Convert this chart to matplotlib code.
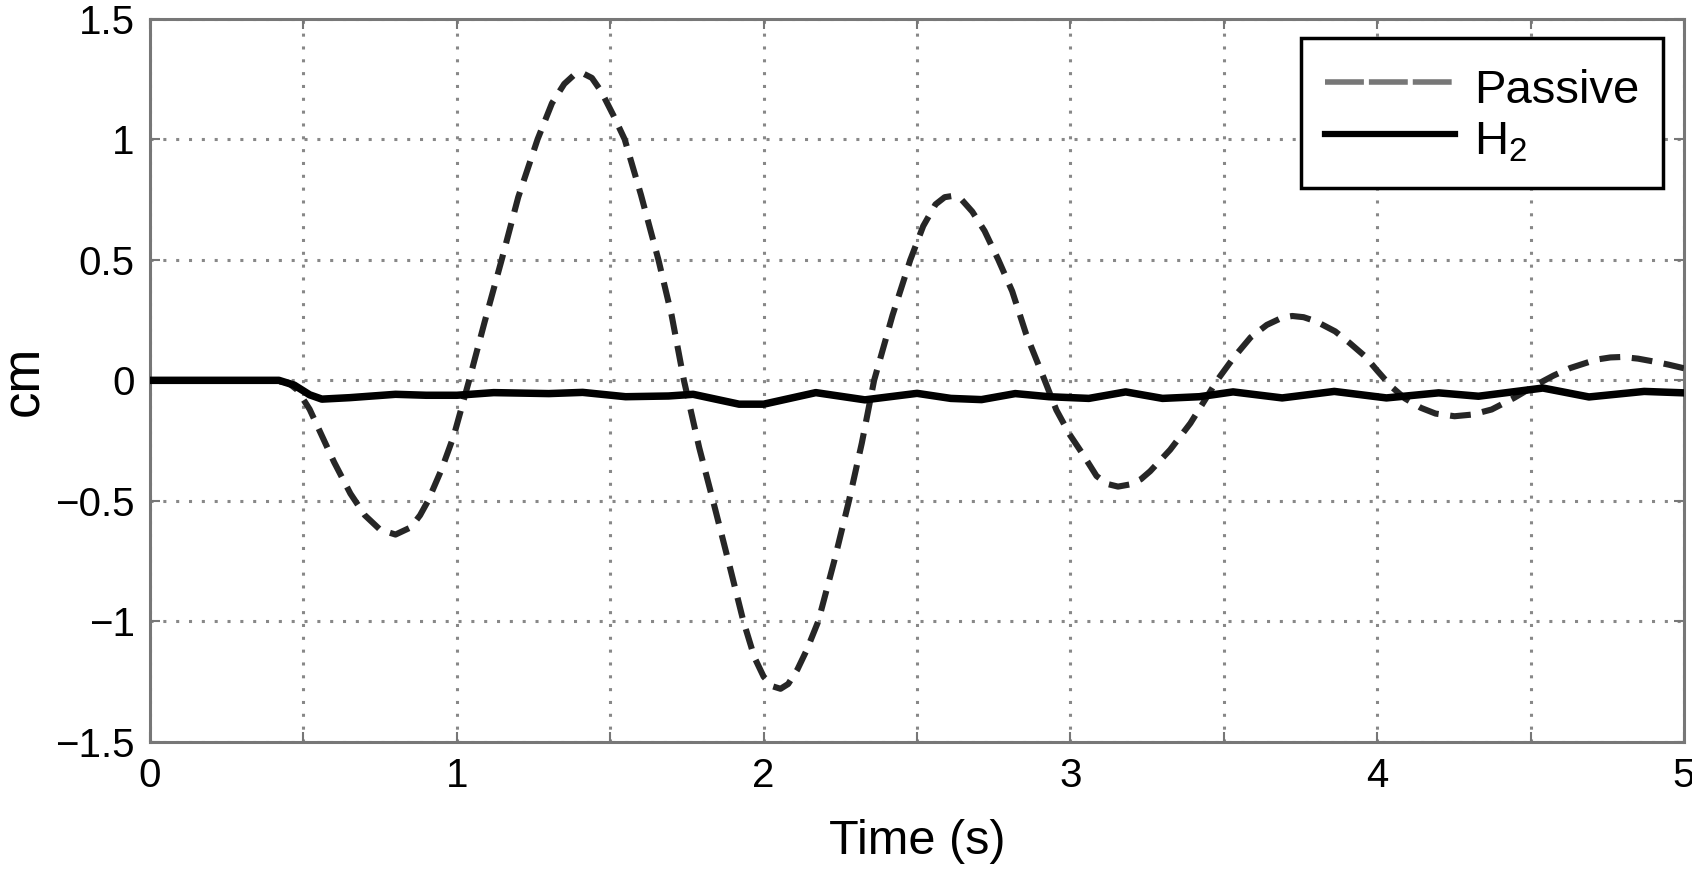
import matplotlib

matplotlib.use("Agg")
import matplotlib.pyplot as plt
from matplotlib.lines import Line2D

plt.rcParams['font.family'] = ['Liberation Sans', 'DejaVu Sans']

# Passive response (cm)
t_passive = [0.00, 0.40, 0.45, 0.48, 0.52, 0.56, 0.60, 0.653, 0.70, 0.75,
             0.80, 0.85, 0.88, 0.906, 0.95, 0.99, 1.04, 1.09, 1.146, 1.20,
             1.263, 1.31, 1.35, 1.38, 1.409, 1.44, 1.47, 1.51, 1.547, 1.60,
             1.657, 1.70, 1.74, 1.79, 1.835, 1.885, 1.934, 1.97, 2.00, 2.03,
             2.055, 2.08, 2.11, 2.14, 2.178, 2.23, 2.278, 2.32, 2.36, 2.42,
             2.478, 2.52, 2.56, 2.59, 2.615, 2.645, 2.68, 2.72, 2.765, 2.81,
             2.856, 2.916, 2.954, 2.998, 3.041, 3.085, 3.12, 3.155, 3.194, 3.23,
             3.26, 3.325, 3.391, 3.445, 3.478, 3.533, 3.587, 3.64, 3.69, 3.723,
             3.76, 3.80, 3.863, 3.91, 3.96, 4.00, 4.045, 4.09, 4.142, 4.19,
             4.252, 4.31, 4.373, 4.446, 4.519, 4.575, 4.629, 4.714, 4.76, 4.799,
             4.85, 4.897, 4.95, 5.00]
y_passive = [0.000, 0.000, -0.010, -0.040, -0.120, -0.230, -0.340, -0.470, -0.560, -0.620,
             -0.640, -0.610, -0.560, -0.500, -0.370, -0.230, 0.000, 0.240, 0.500, 0.760,
             1.000, 1.150, 1.230, 1.265, 1.275, 1.255, 1.200, 1.100, 1.000, 0.770,
             0.500, 0.270, 0.000, -0.280, -0.500, -0.750, -1.000, -1.150, -1.230, -1.270,
             -1.280, -1.260, -1.200, -1.120, -1.000, -0.750, -0.500, -0.260, 0.000, 0.270,
             0.500, 0.640, 0.730, 0.760, 0.765, 0.750, 0.700, 0.620, 0.500, 0.370,
             0.190, 0.000, -0.123, -0.226, -0.308, -0.397, -0.430, -0.441, -0.432, -0.410,
             -0.377, -0.288, -0.178, -0.068, 0.000, 0.096, 0.178, 0.230, 0.260, 0.267,
             0.262, 0.245, 0.203, 0.155, 0.100, 0.040, -0.025, -0.075, -0.114, -0.138,
             -0.149, -0.142, -0.121, -0.073, -0.018, 0.020, 0.051, 0.086, 0.095, 0.097,
             0.090, 0.079, 0.065, 0.050]

# H2 controlled response (cm)
t_h2 = [0.00, 0.42, 0.47, 0.52, 0.56, 0.65, 0.80, 0.90, 1.00, 1.12,
        1.30, 1.41, 1.55, 1.69, 1.77, 1.92, 2.00, 2.17, 2.33, 2.50,
        2.61, 2.71, 2.82, 2.93, 3.06, 3.18, 3.30, 3.42, 3.53, 3.69,
        3.86, 4.03, 4.20, 4.33, 4.54, 4.69, 4.87, 5.00]
y_h2 = [0.000, 0.000, -0.020, -0.060, -0.078, -0.072, -0.058, -0.062, -0.062, -0.051,
        -0.055, -0.050, -0.068, -0.065, -0.058, -0.099, -0.099, -0.051, -0.081, -0.054,
        -0.075, -0.080, -0.055, -0.068, -0.075, -0.048, -0.075, -0.068, -0.048, -0.073,
        -0.046, -0.073, -0.052, -0.066, -0.032, -0.069, -0.046, -0.052]

x_ticks = [0, 0.5, 1, 1.5, 2, 2.5, 3, 3.5, 4, 4.5, 5]
x_ticklabels = ['0', '', '1', '', '2', '', '3', '', '4', '', '5']
y_ticks = [-1.5, -1, -0.5, 0, 0.5, 1, 1.5]
y_ticklabels = ['\u22121.5', '\u22121', '\u22120.5', '0', '0.5', '1', '1.5']

fig = plt.figure(figsize=(16.92, 8.81), dpi=100)
ax = fig.add_axes([0.0887, 0.158, 0.9066, 0.8206])

ax.plot(t_passive, y_passive, color='#262626', lw=4.4, dashes=(3.4, 1.9),
        solid_joinstyle='round', zorder=3)
ax.plot(t_h2, y_h2, color='black', lw=5.4, solid_joinstyle='round', zorder=4)

ax.set_xlim(0, 5)
ax.set_ylim(-1.5, 1.5)
ax.set_xticks(x_ticks)
ax.set_xticklabels(x_ticklabels)
ax.set_yticks(y_ticks)
ax.set_yticklabels(y_ticklabels)
ax.tick_params(direction='in', length=7, width=1.5, color='#777777',
               labelsize=29, top=True, right=True, pad=11)
for s in ax.spines.values():
    s.set_color('#777777')
    s.set_linewidth(2.2)

ax.grid(True, color='#888888', lw=2.2, linestyle=(0, (1.0, 3.2)))
ax.set_axisbelow(True)

ax.set_xlabel('Time (s)', fontsize=35, labelpad=17)
ax.set_ylabel('cm', fontsize=38, labelpad=4)

handles = [Line2D([], [], color='#777777', lw=4.0, dashes=(7.0, 0.9)),
           Line2D([], [], color='black', lw=4.5)]
leg = ax.legend(handles, ['Passive', r'$\mathregular{H_2}$'],
                loc='upper right', bbox_to_anchor=(0.986, 0.974),
                borderaxespad=0, fontsize=34, handlelength=2.75,
                handleheight=1.3, handletextpad=0.4, borderpad=0.5,
                labelspacing=0.0, fancybox=False, framealpha=1,
                edgecolor='black')
leg.get_frame().set_linewidth(2.5)

fig.savefig('out.png', dpi=100)
